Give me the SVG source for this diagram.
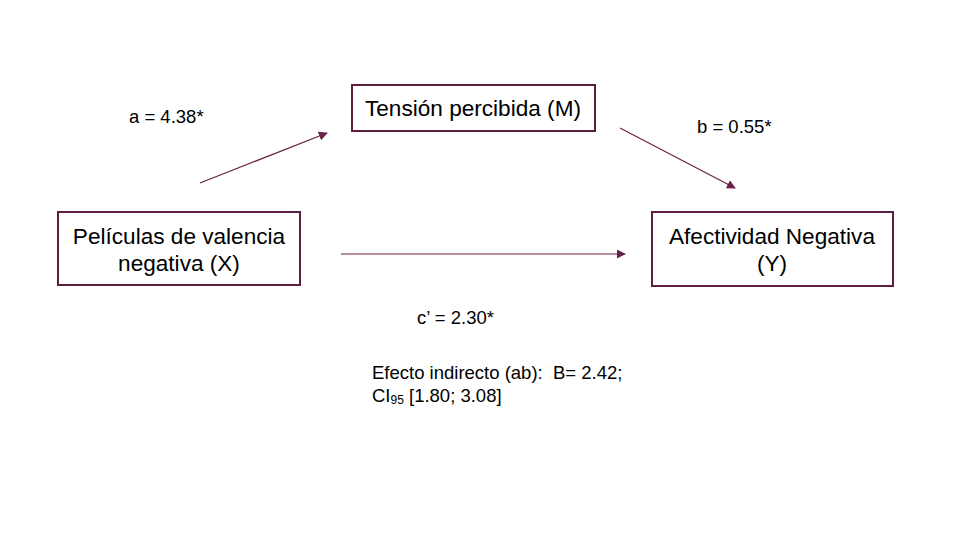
<svg xmlns="http://www.w3.org/2000/svg" width="960" height="540" viewBox="0 0 960 540">
<style>
.box{fill:#fff;stroke:#5e1f41;stroke-width:2}
.nt{font-family:"Liberation Sans",Arial,sans-serif;font-size:22.6px;fill:#000;text-anchor:middle}
.lt{font-family:"Liberation Sans",Arial,sans-serif;font-size:18.5px;fill:#000}
.con{stroke:#6a2148;stroke-width:1.2;fill:none;marker-end:url(#ah)}
</style>
<defs>
<marker id="ah" viewBox="0 0 10 10" refX="9" refY="5" markerWidth="9" markerHeight="9" markerUnits="userSpaceOnUse" orient="auto">
<path d="M0,0 L10,5 L0,10 z" fill="#6a2148"/>
</marker>
</defs>
<rect width="960" height="540" fill="#fff"/>
<g id="connectors">
<line class="con" x1="200" y1="183" x2="327" y2="133"/>
<line class="con" x1="620" y1="128" x2="735" y2="188"/>
<line class="con" x1="341" y1="254" x2="625" y2="254"/>
</g>
<g id="node-M">
<rect class="box" x="352" y="85" width="243" height="46"/>
<text class="nt" x="473" y="116">Tensión percibida (M)</text>
</g>
<g id="node-X">
<rect class="box" x="58" y="212" width="242" height="73"/>
<text class="nt" x="179" y="244">Películas de valencia</text>
<text class="nt" x="179" y="271">negativa (X)</text>
</g>
<g id="node-Y">
<rect class="box" x="652" y="212" width="241" height="74"/>
<text class="nt" x="772" y="244">Afectividad Negativa</text>
<text class="nt" x="772" y="271">(Y)</text>
</g>
<g id="labels">
<text class="lt" x="129" y="123">a = 4.38*</text>
<text class="lt" x="697" y="133">b = 0.55*</text>
<text class="lt" x="417" y="324">c’ = 2.30*</text>
<text class="lt" x="372" y="379" xml:space="preserve">Efecto indirecto (ab):  B= 2.42;</text>
<text class="lt" x="372" y="402">CI<tspan font-size="12" dy="2">95</tspan><tspan dy="-2"> [1.80; 3.08]</tspan></text>
</g>
</svg>
